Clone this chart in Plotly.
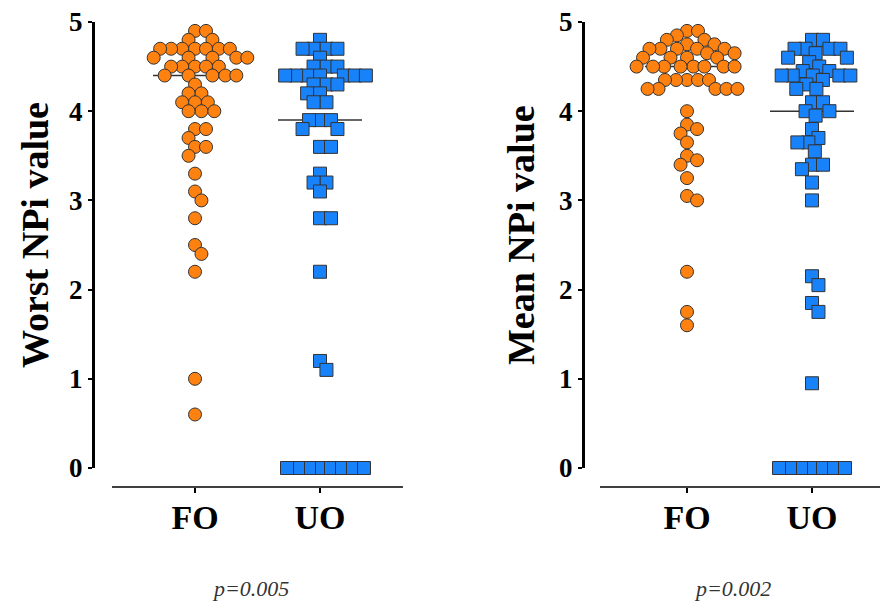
import numpy as np
import plotly.graph_objects as go

W, H = 882, 602

categories = ["FO", "UO"]

worst_fo = [4.9, 4.9, 4.8, 4.8,
            4.7, 4.7, 4.7, 4.7, 4.7, 4.7, 4.7,
            4.6, 4.6, 4.6, 4.6, 4.6,
            4.5, 4.5, 4.5, 4.5, 4.5,
            4.4, 4.4, 4.4, 4.4, 4.4,
            4.3, 4.2, 4.2,
            4.1, 4.1, 4.1, 4.0, 4.0, 4.0,
            3.8, 3.8, 3.7, 3.6, 3.6, 3.5, 3.3, 3.1, 3.0, 2.8,
            2.5, 2.4, 2.2, 1.0, 0.6]

worst_uo = [4.8, 4.7, 4.7, 4.7, 4.7, 4.6, 4.5, 4.5, 4.5,
            4.4, 4.4, 4.4, 4.4, 4.4, 4.4, 4.4,
            4.3, 4.3, 4.3, 4.2, 4.2, 4.1, 4.1,
            3.9, 3.9, 3.9, 3.8, 3.8, 3.6, 3.6,
            3.3, 3.2, 3.2, 3.1, 2.8, 2.8, 2.2, 1.2, 1.1,
            0, 0, 0, 0, 0, 0, 0, 0]

mean_fo = [4.9, 4.9, 4.85, 4.8, 4.8, 4.75, 4.75,
           4.7, 4.7, 4.7, 4.7, 4.7,
           4.65, 4.65, 4.6, 4.6, 4.6, 4.6,
           4.5, 4.5, 4.5, 4.5, 4.5, 4.5, 4.5, 4.5,
           4.35, 4.35, 4.35, 4.35, 4.35,
           4.25, 4.25, 4.25, 4.25, 4.25,
           4.0, 3.85, 3.8, 3.75, 3.65, 3.5, 3.45, 3.4, 3.25, 3.05, 3.0,
           2.2, 1.75, 1.6]

mean_uo = [4.8, 4.8, 4.7, 4.7, 4.7, 4.7,
           4.65, 4.6, 4.6, 4.55, 4.5, 4.45, 4.45,
           4.4, 4.4, 4.4, 4.4, 4.4, 4.35, 4.3, 4.25, 4.25,
           4.1, 4.1, 4.0, 4.0, 3.95,
           3.8, 3.7, 3.65, 3.65, 3.55, 3.4, 3.4, 3.35, 3.2, 3.0,
           2.15, 2.05, 1.85, 1.75, 0.95,
           0, 0, 0, 0, 0, 0, 0]

y_ticks = [0, 1, 2, 3, 4, 5]
p_values = ["p=0.005", "p=0.002"]
y_titles = ["Worst NPi value", "Mean NPi value"]

ORANGE = "#FF8210"
BLUE = "#1882FA"
FONT = "Liberation Serif"

PX_PER_X = 125.0   # pixels per category unit
PX_PER_Y = 89.2    # pixels per NPi unit
D = 11.0           # min distance between marker centres (px)


def swarm(vals):
    vals = np.asarray(vals, float)
    order = np.argsort(-vals, kind="stable")
    placed = []
    off = np.zeros(len(vals))
    for i in order:
        y = vals[i] * PX_PER_Y
        near = [(xj, yj) for xj, yj in placed if abs(yj - y) < D]
        cands = [0.0]
        for xj, yj in near:
            dx = np.sqrt(D * D - (y - yj) ** 2)
            cands += [xj - dx, xj + dx]
        cands.sort(key=lambda c: (round(abs(c), 6), c < 0))
        for c in cands:
            ok = True
            for xj, yj in near:
                dx = np.sqrt(D * D - (y - yj) ** 2)
                if abs(c - xj) < dx - 1e-6:
                    ok = False
                    break
            if ok:
                break
        placed.append((c, y))
        off[i] = c / PX_PER_X
    return off


fig = go.Figure()

panels = [
    dict(data=[worst_fo, worst_uo], xa="x", ya="y"),
    dict(data=[mean_fo, mean_uo], xa="x2", ya="y2"),
]
styles = [dict(symbol="circle", color=ORANGE, size=13),
          dict(symbol="square", color=BLUE, size=13)]

for p in panels:
    for k, vals in enumerate(p["data"]):
        med = float(np.median(vals))
        fig.add_trace(go.Scatter(
            x=[k - 0.336, k + 0.336], y=[med, med], mode="lines",
            line=dict(color="#333333", width=1.5),
            xaxis=p["xa"], yaxis=p["ya"], hoverinfo="skip", cliponaxis=False))
    for k, vals in enumerate(p["data"]):
        xs = k + swarm(vals)
        st = styles[k]
        fig.add_trace(go.Scatter(
            x=xs, y=vals, mode="markers", cliponaxis=False,
            marker=dict(symbol=st["symbol"], size=st["size"], color=st["color"],
                        line=dict(color="#333333", width=1)),
            xaxis=p["xa"], yaxis=p["ya"]))

ydom = [(H - 468) / H, (H - 22) / H]
xpos = (H - 487) / H

common_x = dict(showgrid=False, zeroline=False, showline=False,
                ticks="outside", ticklen=5, tickwidth=1.5,
                tickcolor="black", tickvals=[0, 1], ticktext=categories,
                tickfont=dict(family=FONT, size=34, color="black", weight="bold"),
                ticklabelstandoff=-5,
                anchor="free", position=xpos, fixedrange=True, automargin=False)
common_y = dict(showgrid=False, zeroline=False, showline=True, linecolor="black",
                linewidth=2, ticks="outside", ticklen=4, tickwidth=2,
                tickcolor="black", range=[0, 5], tickvals=y_ticks,
                tickfont=dict(family=FONT, size=27, color="black", weight="bold"),
                domain=ydom, fixedrange=True, automargin=False)

fig.update_layout(
    width=W, height=H,
    margin=dict(l=0, r=0, t=0, b=0, pad=0, autoexpand=False),
    paper_bgcolor="white", plot_bgcolor="rgba(0,0,0,0)", showlegend=False,
    xaxis=dict(common_x, domain=[94 / W, 403 / W], range=[-0.808, 1.664]),
    yaxis=dict(common_y, anchor="x"),
    xaxis2=dict(common_x, domain=[584 / W, 880 / W], range=[-0.824, 1.544]),
    yaxis2=dict(common_y, anchor="x2"),
)

# bottom axis baselines (offset from the y axes, Prism style)
for x0, x1 in [(112, 403), (600, 880)]:
    fig.add_shape(type="line", xref="paper", yref="paper",
                  x0=x0 / W, x1=x1 / W, y0=xpos, y1=xpos,
                  line=dict(color="black", width=1.5))

# y axis lines (drawn again as paper shapes so they are always visible)
for xa in [94, 584]:
    fig.add_shape(type="line", xref="paper", yref="paper",
                  x0=xa / W, x1=xa / W, y0=ydom[0], y1=ydom[1],
                  line=dict(color="black", width=2))

for xc, txt in zip([35, 521], y_titles):
    fig.add_annotation(x=xc / W, y=(H - 235) / H, xref="paper", yref="paper",
                       xanchor="center", yanchor="middle",
                       text=txt, textangle=-90, showarrow=False,
                       font=dict(family=FONT, size=38, color="black", weight="bold"))
for xc, txt in zip([250, 732], p_values):
    fig.add_annotation(x=xc / W, y=(H - 588) / H, xref="paper", yref="paper",
                       xanchor="center", yanchor="middle",
                       text=txt, showarrow=False,
                       font=dict(family=FONT, size=22, color="#333333", style="italic"))

fig.write_html("out.html", config={"displayModeBar": False},
               post_script="document.body.style.margin='0px';")
